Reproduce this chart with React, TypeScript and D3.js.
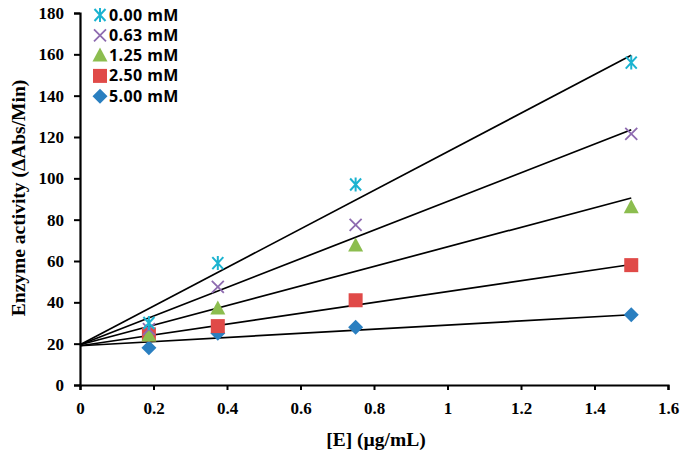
import { useEffect, useRef } from "react"
import * as d3 from "d3"

const concentrations = ["0.00 mM", "0.63 mM", "1.25 mM", "2.50 mM", "5.00 mM"]
const colors = ["#1bb3d0", "#8e6bb0", "#8cbd4f", "#e04a48", "#2a7fc0"]
const symbols = ["asterisk", "cross", "triangle", "square", "diamond"]
const enzyme = [0.1875, 0.375, 0.75, 1.5]

const activity00 = [30, 59, 97, 156]
const activity063 = [27, 47.5, 77.5, 121.5]
const activity125 = [24, 37, 67.5, 86]
const activity250 = [24.5, 28.5, 41, 58]
const activity500 = [18, 25, 28, 34]
const activities = [activity00, activity063, activity125, activity250, activity500]

// trend line values at x = 0 and x = 1.5
const fitStart = [19.5, 19.5, 19.5, 19, 19]
const fitEnd = [159.5, 123.5, 90.5, 58.3, 34]

const xTicks = [0, 0.2, 0.4, 0.6, 0.8, 1, 1.2, 1.4, 1.6]
const yTicks = [0, 20, 40, 60, 80, 100, 120, 140, 160, 180]

function drawMarker(g: d3.Selection<SVGGElement, unknown, null, undefined>, type: string, color: string, cx: number, cy: number) {
  if (type === "asterisk") {
    g.append("path")
      .attr(
        "d",
        `M${cx},${cy - 7}L${cx},${cy + 7}M${cx - 5.5},${cy - 6}L${cx + 5.5},${cy + 6}M${cx - 5.5},${cy + 6}L${cx + 5.5},${cy - 6}`,
      )
      .attr("stroke", color)
      .attr("stroke-width", 2)
      .attr("fill", "none")
  } else if (type === "cross") {
    const r = 6
    g.append("path")
      .attr("d", `M${cx - r},${cy - r}L${cx + r},${cy + r}M${cx - r},${cy + r}L${cx + r},${cy - r}`)
      .attr("stroke", color)
      .attr("stroke-width", 1.8)
  } else if (type === "triangle") {
    g.append("path")
      .attr("d", `M${cx},${cy - 8}L${cx + 7.5},${cy + 6}L${cx - 7.5},${cy + 6}Z`)
      .attr("fill", color)
  } else if (type === "square") {
    g.append("rect").attr("x", cx - 7).attr("y", cy - 7).attr("width", 14).attr("height", 14).attr("fill", color)
  } else {
    g.append("path")
      .attr("d", `M${cx},${cy - 7.5}L${cx + 7.5},${cy}L${cx},${cy + 7.5}L${cx - 7.5},${cy}Z`)
      .attr("fill", color)
  }
}

export default function App() {
  const svgRef = useRef<SVGSVGElement>(null)

  useEffect(() => {
    if (!svgRef.current) return
    const svg = d3.select(svgRef.current)
    svg.selectAll("*").remove()

    const x = d3.scaleLinear().domain([0, 1.6]).range([80, 668])
    const y = d3.scaleLinear().domain([0, 180]).range([385, 13])
    const serif = "'Liberation Serif', 'Times New Roman', serif"

    const g = svg.append("g")

    // 추세선
    fitStart.forEach((s, i) => {
      g.append("line")
        .attr("x1", x(0))
        .attr("y1", y(s))
        .attr("x2", x(1.5))
        .attr("y2", y(fitEnd[i]))
        .attr("stroke", "#000")
        .attr("stroke-width", 1.7)
    })

    // 데이터 포인트 (draw from last series so 0.00 mM is on top)
    for (let i = activities.length - 1; i >= 0; i--) {
      const mg = g.append("g")
      activities[i].forEach((v, j) => drawMarker(mg, symbols[i], colors[i], x(enzyme[j]), y(v)))
    }

    // 축
    const xAxis = g
      .append("g")
      .attr("transform", `translate(0,${y(0)})`)
      .call(d3.axisBottom(x).tickValues(xTicks).tickSize(5).tickPadding(12).tickFormat((d) => d3.format("")(d as number)))
    xAxis.select(".domain").attr("stroke-width", 2.2)
    xAxis.selectAll(".tick line").attr("stroke-width", 2)
    xAxis.selectAll("text").style("font-family", serif).style("font-size", "17px").style("font-weight", "bold").attr("fill", "#000")

    const yAxis = g
      .append("g")
      .attr("transform", `translate(${x(0)},0)`)
      .call(d3.axisLeft(y).tickValues(yTicks).tickSize(6).tickPadding(10))
    yAxis.select(".domain").attr("stroke-width", 2.2)
    yAxis.selectAll(".tick line").attr("stroke-width", 2)
    yAxis.selectAll("text").style("font-family", serif).style("font-size", "17px").style("font-weight", "bold").attr("fill", "#000")

    // 축 레이블
    svg
      .append("text")
      .attr("transform", `translate(25,198) rotate(-90)`)
      .style("text-anchor", "middle")
      .style("font-family", serif)
      .style("font-size", "19.5px")
      .style("font-weight", "bold")
      .text("Enzyme activity (ΔAbs/Min)")

    svg
      .append("text")
      .attr("x", 376)
      .attr("y", 446)
      .style("text-anchor", "middle")
      .style("font-family", serif)
      .style("font-size", "19.5px")
      .style("font-weight", "bold")
      .text("[E] (µg/mL)")

    // 범례
    const legend = svg.append("g")
    concentrations.forEach((c, i) => {
      const ly = 15 + i * 20.3
      drawMarker(legend.append("g"), symbols[i], colors[i], 100, ly)
      legend
        .append("text")
        .attr("x", 109)
        .attr("y", ly + 5.5)
        .style("font-family", "'Open Sans', sans-serif")
        .style("font-size", "16px")
        .style("letter-spacing", "0.4px")
        .style("font-weight", "bold")
        .text(c)
    })
  }, [])

  return <svg ref={svgRef} width={683} height={452} style={{ display: "block", position: "absolute", left: 0, top: 0, background: "#fff" }} />
}
